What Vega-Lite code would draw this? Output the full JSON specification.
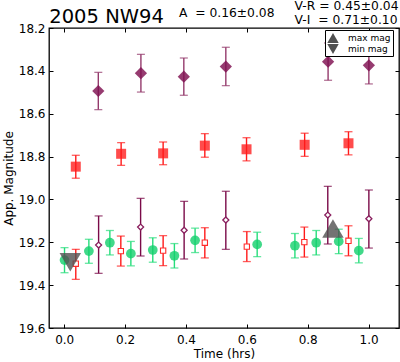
{
  "$schema": "https://vega.github.io/schema/vega-lite/v6.json",
  "width": 350,
  "height": 300,
  "autosize": {"type": "none"},
  "padding": {"left": 49, "top": 28, "right": 1, "bottom": 34},
  "background": "white",
  "config": {
    "view": {"stroke": "black", "strokeWidth": 1.3},
    "font": "DejaVu Sans",
    "axis": {"labelFont": "DejaVu Sans", "titleFont": "DejaVu Sans", "labelColor": "black", "titleColor": "black", "tickColor": "black", "titleFontWeight": "normal", "grid": false, "domain": false}
  },
  "datasets": {
    "pts": [
      {"s": "P", "t": 0.112, "mag": 18.494, "lo": 18.407, "hi": 18.581},
      {"s": "P", "t": 0.252, "mag": 18.411, "lo": 18.323, "hi": 18.499},
      {"s": "P", "t": 0.393, "mag": 18.427, "lo": 18.340, "hi": 18.514},
      {"s": "P", "t": 0.531, "mag": 18.380, "lo": 18.290, "hi": 18.469},
      {"s": "P", "t": 0.867, "mag": 18.357, "lo": 18.270, "hi": 18.444},
      {"s": "P", "t": 1.001, "mag": 18.374, "lo": 18.285, "hi": 18.461},
      {"s": "R", "t": 0.038, "mag": 18.847, "lo": 18.794, "hi": 18.901},
      {"s": "R", "t": 0.187, "mag": 18.787, "lo": 18.735, "hi": 18.841},
      {"s": "R", "t": 0.325, "mag": 18.785, "lo": 18.732, "hi": 18.838},
      {"s": "R", "t": 0.462, "mag": 18.749, "lo": 18.693, "hi": 18.803},
      {"s": "R", "t": 0.599, "mag": 18.766, "lo": 18.712, "hi": 18.820},
      {"s": "R", "t": 0.790, "mag": 18.745, "lo": 18.691, "hi": 18.799},
      {"s": "R", "t": 0.934, "mag": 18.738, "lo": 18.684, "hi": 18.792},
      {"s": "G", "t": 0.001, "mag": 19.283, "lo": 19.225, "hi": 19.342},
      {"s": "G", "t": 0.081, "mag": 19.241, "lo": 19.186, "hi": 19.298},
      {"s": "G", "t": 0.150, "mag": 19.202, "lo": 19.145, "hi": 19.259},
      {"s": "G", "t": 0.219, "mag": 19.253, "lo": 19.196, "hi": 19.310},
      {"s": "G", "t": 0.291, "mag": 19.236, "lo": 19.179, "hi": 19.293},
      {"s": "G", "t": 0.362, "mag": 19.263, "lo": 19.206, "hi": 19.320},
      {"s": "G", "t": 0.430, "mag": 19.191, "lo": 19.134, "hi": 19.248},
      {"s": "G", "t": 0.634, "mag": 19.210, "lo": 19.153, "hi": 19.267},
      {"s": "G", "t": 0.758, "mag": 19.216, "lo": 19.159, "hi": 19.273},
      {"s": "G", "t": 0.828, "mag": 19.202, "lo": 19.145, "hi": 19.259},
      {"s": "G", "t": 0.902, "mag": 19.196, "lo": 19.139, "hi": 19.253},
      {"s": "G", "t": 0.968, "mag": 19.239, "lo": 19.182, "hi": 19.296},
      {"s": "S", "t": 0.038, "mag": 19.300, "lo": 19.233, "hi": 19.373},
      {"s": "S", "t": 0.186, "mag": 19.241, "lo": 19.171, "hi": 19.311},
      {"s": "S", "t": 0.325, "mag": 19.239, "lo": 19.169, "hi": 19.309},
      {"s": "S", "t": 0.462, "mag": 19.202, "lo": 19.132, "hi": 19.273},
      {"s": "S", "t": 0.600, "mag": 19.220, "lo": 19.150, "hi": 19.290},
      {"s": "S", "t": 0.789, "mag": 19.199, "lo": 19.129, "hi": 19.269},
      {"s": "S", "t": 0.934, "mag": 19.193, "lo": 19.123, "hi": 19.263},
      {"s": "D", "t": 0.113, "mag": 19.213, "lo": 19.077, "hi": 19.345},
      {"s": "D", "t": 0.251, "mag": 19.129, "lo": 18.995, "hi": 19.264},
      {"s": "D", "t": 0.394, "mag": 19.144, "lo": 19.009, "hi": 19.278},
      {"s": "D", "t": 0.531, "mag": 19.096, "lo": 18.962, "hi": 19.233},
      {"s": "D", "t": 0.866, "mag": 19.073, "lo": 18.939, "hi": 19.208},
      {"s": "D", "t": 1.001, "mag": 19.090, "lo": 18.956, "hi": 19.227}
    ],
    "extremes": [
      {"kind": "max mag", "t": 0.883, "mag": 19.136},
      {"kind": "min mag", "t": 0.020, "mag": 19.293}
    ],
    "heading": [
      {"label": "2005 NW94", "t": -0.049, "mag": 18.175}
    ],
    "notes": [
      {"label": "A\u00a0 = 0.16±0.08", "t": 0.377, "mag": 18.150},
      {"label": "V-R = 0.45±0.04", "t": 0.757, "mag": 18.117},
      {"label": "V-I\u00a0 = 0.71±0.10", "t": 0.757, "mag": 18.180}
    ]
  },
  "resolve": {"axis": {"x": "independent", "y": "independent"}},
  "layer": [
    {
      "data": {"name": "pts"},
      "mark": {"type": "rule", "strokeWidth": 1.4},
      "encoding": {
        "x": {"field": "t", "type": "quantitative", "scale": {"domain": [-0.05, 1.1], "nice": false, "zero": false},
          "axis": {"orient": "bottom", "values": [0, 0.2, 0.4, 0.6, 0.8, 1.0], "format": ".1f", "tickSize": -4, "labelPadding": 10, "labelFontSize": 12, "title": "Time (hrs)", "titleFontSize": 12, "titlePadding": 3}},
        "y": {"field": "lo", "type": "quantitative", "scale": {"domain": [18.2, 19.6], "reverse": true, "nice": false, "zero": false},
          "axis": {"orient": "left", "values": [18.2, 18.4, 18.6, 18.8, 19.0, 19.2, 19.4, 19.6], "format": ".1f", "tickSize": -4, "labelPadding": 8, "labelFontSize": 12, "title": "App. Magnitude", "titleFontSize": 12, "titlePadding": 3}},
        "y2": {"field": "hi"},
        "color": {"field": "s", "type": "nominal", "legend": null, "scale": {"domain": ["P", "R", "G", "S", "D"], "range": ["#943a6c", "#ff1a1a", "#25dd7a", "#ff1a1a", "#7a0a48"]}}
      }
    },
    {
      "data": {"name": "pts"},
      "mark": {"type": "tick", "orient": "horizontal", "size": 8, "thickness": 1.3},
      "encoding": {
        "x": {"field": "t", "type": "quantitative",
          "axis": {"orient": "top", "values": [0, 0.2, 0.4, 0.6, 0.8, 1.0], "tickSize": -4, "labels": false, "title": null}},
        "y": {"field": "lo", "type": "quantitative",
          "axis": {"orient": "right", "values": [18.2, 18.4, 18.6, 18.8, 19.0, 19.2, 19.4, 19.6], "tickSize": -4, "labels": false, "title": null}},
        "color": {"field": "s", "type": "nominal", "legend": null}
      }
    },
    {
      "data": {"name": "pts"},
      "mark": {"type": "tick", "orient": "horizontal", "size": 8, "thickness": 1.3},
      "encoding": {
        "x": {"field": "t", "type": "quantitative", "axis": null},
        "y": {"field": "hi", "type": "quantitative", "axis": null},
        "color": {"field": "s", "type": "nominal", "legend": null}
      }
    },
    {
      "data": {"name": "pts"},
      "transform": [{"filter": "datum.s === 'P'"}],
      "mark": {"type": "point", "shape": "diamond", "filled": true, "size": 150, "color": "#7f1050", "opacity": 0.82},
      "encoding": {
        "x": {"field": "t", "type": "quantitative", "axis": null},
        "y": {"field": "mag", "type": "quantitative", "axis": null}
      }
    },
    {
      "data": {"name": "pts"},
      "transform": [{"filter": "datum.s === 'R'"}],
      "mark": {"type": "point", "shape": "square", "filled": true, "size": 100, "color": "#ff1a1a", "opacity": 0.78},
      "encoding": {
        "x": {"field": "t", "type": "quantitative", "axis": null},
        "y": {"field": "mag", "type": "quantitative", "axis": null}
      }
    },
    {
      "data": {"name": "pts"},
      "transform": [{"filter": "datum.s === 'G'"}],
      "mark": {"type": "point", "shape": "circle", "filled": true, "size": 95, "color": "#12d06c", "opacity": 0.8},
      "encoding": {
        "x": {"field": "t", "type": "quantitative", "axis": null},
        "y": {"field": "mag", "type": "quantitative", "axis": null}
      }
    },
    {
      "data": {"name": "pts"},
      "transform": [{"filter": "datum.s === 'S'"}],
      "mark": {"type": "point", "shape": "square", "filled": false, "size": 28, "stroke": "#ff2a2a", "strokeWidth": 1.1, "fill": "white", "fillOpacity": 1, "opacity": 1},
      "encoding": {
        "x": {"field": "t", "type": "quantitative", "axis": null},
        "y": {"field": "mag", "type": "quantitative", "axis": null}
      }
    },
    {
      "data": {"name": "pts"},
      "transform": [{"filter": "datum.s === 'D'"}],
      "mark": {"type": "point", "shape": "diamond", "filled": false, "size": 36, "stroke": "#8a1f5e", "strokeWidth": 1.3, "fill": "white", "fillOpacity": 1, "opacity": 1},
      "encoding": {
        "x": {"field": "t", "type": "quantitative", "axis": null},
        "y": {"field": "mag", "type": "quantitative", "axis": null}
      }
    },
    {
      "data": {"name": "extremes"},
      "mark": {"type": "point", "filled": true, "size": 460, "color": "#505050", "opacity": 0.8},
      "encoding": {
        "x": {"field": "t", "type": "quantitative", "axis": null},
        "y": {"field": "mag", "type": "quantitative", "axis": null},
        "shape": {"field": "kind", "type": "nominal",
          "scale": {"domain": ["max mag", "min mag"], "range": ["triangle-up", "triangle-down"]},
          "legend": {"orient": "none", "legendX": 276, "legendY": 2, "title": null, "strokeColor": "black", "fillColor": "white", "padding": 2, "symbolSize": 130, "symbolFillColor": "#737373", "symbolStrokeWidth": 0, "symbolOpacity": 1, "labelFontSize": 9, "labelFont": "DejaVu Sans", "labelColor": "black", "rowPadding": 0, "labelOffset": 9, "cornerRadius": 0}}
      }
    },
    {
      "data": {"name": "heading"},
      "mark": {"type": "text", "align": "left", "baseline": "alphabetic", "fontSize": 19.5, "font": "DejaVu Sans", "color": "black"},
      "encoding": {
        "x": {"field": "t", "type": "quantitative", "axis": null},
        "y": {"field": "mag", "type": "quantitative", "axis": null},
        "text": {"field": "label"}
      }
    },
    {
      "data": {"name": "notes"},
      "mark": {"type": "text", "align": "left", "baseline": "alphabetic", "fontSize": 12.3, "font": "DejaVu Sans", "color": "black"},
      "encoding": {
        "x": {"field": "t", "type": "quantitative", "axis": null},
        "y": {"field": "mag", "type": "quantitative", "axis": null},
        "text": {"field": "label"}
      }
    }
  ]
}
